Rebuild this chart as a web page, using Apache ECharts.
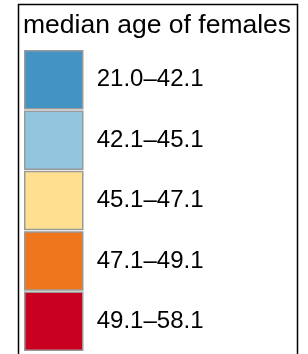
<!DOCTYPE html>
<html>
<head>
<meta charset="utf-8">
<script src="https://cdn.jsdelivr.net/npm/echarts@6/dist/echarts.min.js"></script>
<style>
  html, body { margin: 0; padding: 0; background: #fff; }
  #legendChart { width: 308px; height: 354px; }
</style>
</head>
<body>
<div id="legendChart"></div>
<script>
// class breaks of the median age of females
const breaks = [21.0, 42.1, 45.1, 47.1, 49.1, 58.1];
const classColors = ['#4393c3', '#92c5de', '#fee090', '#ee761c', '#ca0020'];
const legendTitle = 'median age of females';

// "21.0–42.1" style labels
const classLabels = breaks.slice(0, -1).map((b, i) => b.toFixed(1) + '\u2013' + breaks[i + 1].toFixed(1));

const myChart = echarts.init(document.getElementById('legendChart'));
const option = {
  animation: false,
  title: {
    text: legendTitle,
    left: 23,
    top: 12,
    padding: 0,
    textStyle: {
      fontFamily: 'Liberation Sans, Arial, sans-serif',
      fontSize: 26.5,
      fontWeight: 'normal',
      color: '#000'
    }
  },
  grid: { left: 0, right: 0, top: 0, bottom: 0, show: false },
  xAxis: { type: 'category', show: false },
  yAxis: { type: 'value', show: false },
  legend: {
    orient: 'vertical',
    left: 24,
    top: 50,
    height: 400,
    padding: 0,
    icon: 'rect',
    itemWidth: 58,
    itemHeight: 58,
    itemGap: 0.9,
    selectedMode: false,
    itemStyle: { borderColor: '#9a9a9a', borderWidth: 1.5 },
    textStyle: {
      fontFamily: 'Liberation Sans, Arial, sans-serif',
      fontSize: 24,
      color: '#000',
      padding: [0, 0, 0, 9]
    },
    data: classLabels
  },
  graphic: [{
    type: 'rect',
    shape: { x: 18.5, y: 4.5, width: 279, height: 380 },
    style: { fill: null, stroke: '#000', lineWidth: 1.5 },
    silent: true
  }],
  series: classLabels.map((name, i) => ({
    name: name,
    type: 'bar',
    data: [],
    itemStyle: { color: classColors[i] }
  }))
};
myChart.setOption(option);
</script>
</body>
</html>
